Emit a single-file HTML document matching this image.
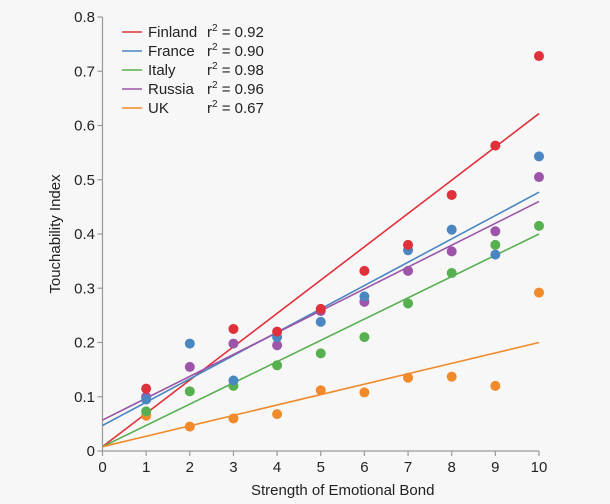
<!DOCTYPE html>
<html><head><meta charset="utf-8"><style>
html,body{margin:0;padding:0;background:#f7f7f7;}
svg{display:block;font-family:"Liberation Sans",sans-serif;}
</style></head><body>
<svg id="s" width="610" height="504" viewBox="0 0 610 504">
<rect width="610" height="504" fill="#f7f7f7"/>
<g id="ax" stroke="#9a9a9a" stroke-width="1.2" fill="none">
<line x1="102.5" y1="17" x2="102.5" y2="451"/>
<line x1="102.5" y1="451" x2="539" y2="451"/>
</g>
<g id="lbl" font-size="15" fill="#222"></g>
<text x="251" y="495" font-size="15" fill="#222">Strength of Emotional Bond</text>
<text transform="translate(60,234) rotate(-90)" font-size="15" fill="#222" text-anchor="middle">Touchability Index</text>
<g id="data"></g>
<g font-size="15" fill="#222">
<line x1="122" y1="32" x2="142" y2="32" stroke="#e0303a" stroke-width="1.5"/>
<line x1="122" y1="51" x2="142" y2="51" stroke="#4a86c0" stroke-width="1.5"/>
<line x1="122" y1="70" x2="142" y2="70" stroke="#56b04f" stroke-width="1.5"/>
<line x1="122" y1="89" x2="142" y2="89" stroke="#9c55a8" stroke-width="1.5"/>
<line x1="122" y1="108" x2="142" y2="108" stroke="#f08a2a" stroke-width="1.5"/>
<text x="148" y="37">Finland</text><text x="148" y="56">France</text><text x="148" y="75">Italy</text><text x="148" y="94">Russia</text><text x="148" y="113">UK</text>
<text x="207" y="37">r<tspan dy="-6" font-size="10">2</tspan><tspan dy="6"> = 0.92</tspan></text>
<text x="207" y="56">r<tspan dy="-6" font-size="10">2</tspan><tspan dy="6"> = 0.90</tspan></text>
<text x="207" y="75">r<tspan dy="-6" font-size="10">2</tspan><tspan dy="6"> = 0.98</tspan></text>
<text x="207" y="94">r<tspan dy="-6" font-size="10">2</tspan><tspan dy="6"> = 0.96</tspan></text>
<text x="207" y="113">r<tspan dy="-6" font-size="10">2</tspan><tspan dy="6"> = 0.67</tspan></text>
</g>
</svg>
<script>
var NS="http://www.w3.org/2000/svg";
function X(v){return 102.5+43.65*v}function Y(v){return 451-542.5*v}
function el(p,t,a,txt){var e=document.createElementNS(NS,t);for(var k in a)e.setAttribute(k,a[k]);if(txt!=null)e.textContent=txt;p.appendChild(e);return e}
var ax=document.getElementById('ax'),lb=document.getElementById('lbl'),d=document.getElementById('data');
for(var i=0;i<=10;i++){el(ax,'line',{x1:X(i),y1:451,x2:X(i),y2:456});el(lb,'text',{x:X(i),y:472,'text-anchor':'middle'},i)}
for(var j=0;j<=8;j++){var y=Y(j/10);el(ax,'line',{x1:97.5,y1:y,x2:102.5,y2:y});el(lb,'text',{x:95,y:y+5,'text-anchor':'end'},j==0?'0':(j/10).toFixed(1))}
var S=[
["#e0303a",0.008,0.622,[0.115,null,0.225,0.22,0.262,0.332,0.38,0.472,0.563,0.728]],
["#4a86c0",0.047,0.477,[0.095,0.198,0.13,0.21,0.238,0.285,0.37,0.408,0.362,0.543]],
["#56b04f",0.008,0.40,[0.073,0.11,0.12,0.158,0.18,0.21,0.272,0.328,0.38,0.415]],
["#9c55a8",0.057,0.46,[0.1,0.155,0.198,0.195,0.258,0.275,0.332,0.368,0.405,0.505]],
["#f08a2a",0.008,0.2,[0.065,0.045,0.06,0.068,0.112,0.108,0.135,0.137,0.12,0.292]]];
S.forEach(function(s){el(d,'line',{x1:X(0),y1:Y(s[1]),x2:X(10),y2:Y(s[2]),stroke:s[0],'stroke-width':1.6})});
for(var k=S.length-1;k>=0;k--){var s=S[k];s[3].forEach(function(v,i){if(v!=null)el(d,'circle',{cx:X(i+1),cy:Y(v),r:5,fill:s[0]})})}
</script>
</body></html>
